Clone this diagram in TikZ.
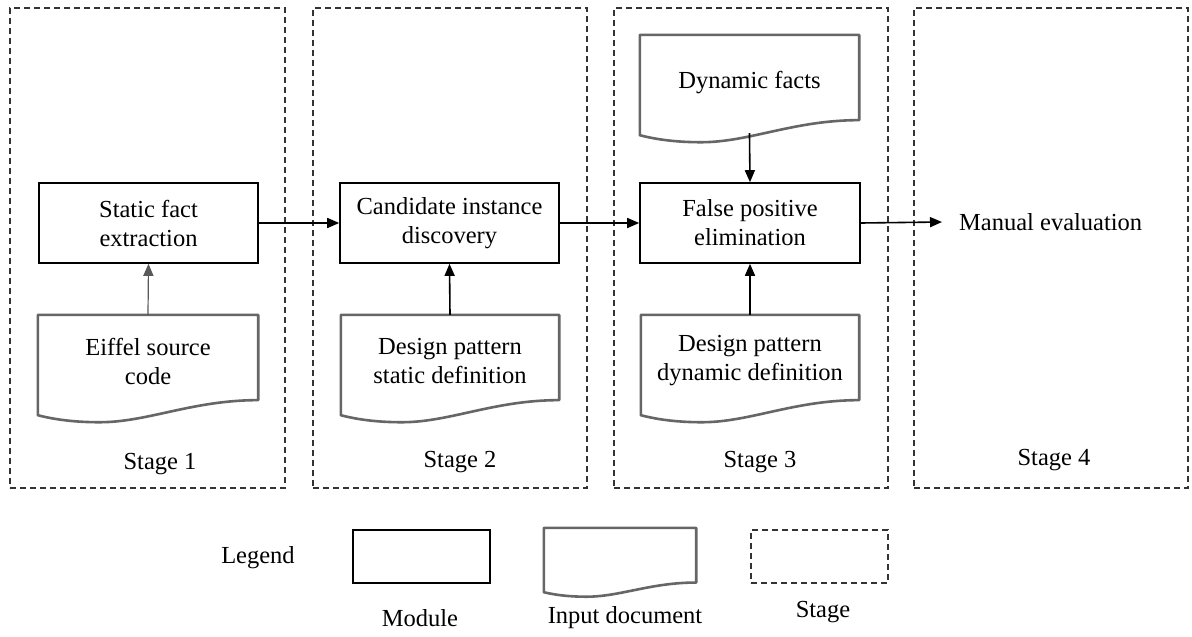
\documentclass[tikz,border=0pt]{standalone}
\usepackage{fontspec}
\setmainfont{Liberation Serif}
\usetikzlibrary{arrows.meta,calc}

\tikzset{
  txt/.style={font=\fontsize{24.5pt}{29pt}\selectfont, align=center, inner sep=0pt},
  stagebox/.style={draw=black!80, line width=1.2pt, dash pattern=on 6pt off 4pt},
  modulebox/.style={draw=black, line width=1.6pt, fill=white, txt},
  docnode/.style={inner sep=0pt},
  docline/.style={draw=black!60, line width=2.6pt, line join=round},
  flow/.style={line width=1.6pt, -{Triangle[length=12pt,width=10pt]}},
  softflow/.style={flow, draw=black!65, line width=1.2pt}
}

% outline of an input document: flat top, wavy bottom edge
\newcommand\drawdoc[1]{%
  \draw[docline] let \p1=(#1.north west), \p2=(#1.south east),
      \n1={\x2-\x1}, \n2={\y1-\y2} in
    (\x1,\y1) -- (\x2,\y1) -- (\x2,{\y1-0.85*\n2})
    .. controls ({\x1+0.70*\n1},{\y1-0.85*\n2}) and ({\x1+0.50*\n1},{\y1-1.07*\n2})
    .. ({\x1+0.28*\n1},{\y1-1.07*\n2})
    .. controls ({\x1+0.16*\n1},{\y1-1.07*\n2}) and ({\x1+0.07*\n1},{\y1-1.04*\n2})
    .. (\x1,\y1-\n2) -- cycle;}

\begin{document}
\begin{tikzpicture}[x=1pt, y=-1pt]
\useasboundingbox[fill=white] (0,0) rectangle (1192,637);

% stages
\node[stagebox, minimum width=275pt, minimum height=480pt] (s1) at (147.5,248) {};
\node[stagebox, minimum width=274pt, minimum height=480pt] (s2) at (450,248) {};
\node[stagebox, minimum width=274pt, minimum height=480pt] (s3) at (751,248) {};
\node[stagebox, minimum width=274pt, minimum height=480pt] (s4) at (1051,248) {};
\node[txt] (s1lab) at (160,464) {Stage 1};
\node[txt] (s2lab) at (460,462) {Stage 2};
\node[txt] (s3lab) at (760,462) {Stage 3};
\node[txt] (s4lab) at (1054,460) {Stage 4};

% modules
\node[modulebox, minimum width=219pt, minimum height=80pt] (sfe) at (148.5,223) {Static fact\\extraction};
\node[modulebox, minimum width=219pt, minimum height=80pt] (cid) at (449.5,223) {Candidate instance\\discovery};
\node[modulebox, minimum width=220pt, minimum height=80pt] (fpe) at (750,223) {False positive\\elimination};
\node[txt, anchor=west, inner xsep=17pt] (man) at (942,222) {Manual evaluation};

% input documents
\node[docnode, minimum width=220pt, minimum height=100pt] (esc) at (148,365) {};
\node[docnode, minimum width=218pt, minimum height=100pt] (dps) at (450,365) {};
\node[docnode, minimum width=218pt, minimum height=100pt] (dpd) at (750,365) {};
\node[docnode, minimum width=219pt, minimum height=100pt] (dyf) at (749.5,85) {};
\drawdoc{esc}
\drawdoc{dps}
\drawdoc{dpd}
\drawdoc{dyf}
\node[txt] (esclab) at ($(esc.center)+(0,-4)$) {Eiffel source\\code};
\node[txt] (dpslab) at ($(dps.center)+(0,-4)$) {Design pattern\\static definition};
\node[txt] (dpdlab) at ($(dpd.center)+(0,-4)$) {Design pattern\\dynamic definition};
\node[txt] (dyflab) at ($(dyf.center)+(0,-2)$) {Dynamic facts};

% connectors
\draw[flow] (sfe.east) -- (cid.west);
\draw[flow] (cid.east) -- (fpe.west);
\draw[flow] (fpe.east) -- (man.west);
\draw[softflow] (esc.north) -- (sfe.south);
\draw[flow] (dps.north) -- (cid.south);
\draw[flow] (dpd.north) -- (fpe.south);
\draw[flow, shorten <=-2pt] (dyf.south) -- (fpe.north);

% legend
\node[txt] (leg) at (258,558) {Legend};
\node[draw=black, line width=1.6pt, minimum width=137pt, minimum height=53pt] (legmod) at (421.5,556.5) {};
\node[docnode, minimum width=152pt, minimum height=64pt] (legdoc) at (620,560) {};
\drawdoc{legdoc}
\node[stagebox, minimum width=137pt, minimum height=53pt] (legstage) at (819.5,556.5) {};
\node[txt] (legmodlab) at (420,618) {Module};
\node[txt] (legdoclab) at (625,618) {Input document};
\node[txt] (legstagelab) at (823,612) {Stage};
\end{tikzpicture}
\end{document}
